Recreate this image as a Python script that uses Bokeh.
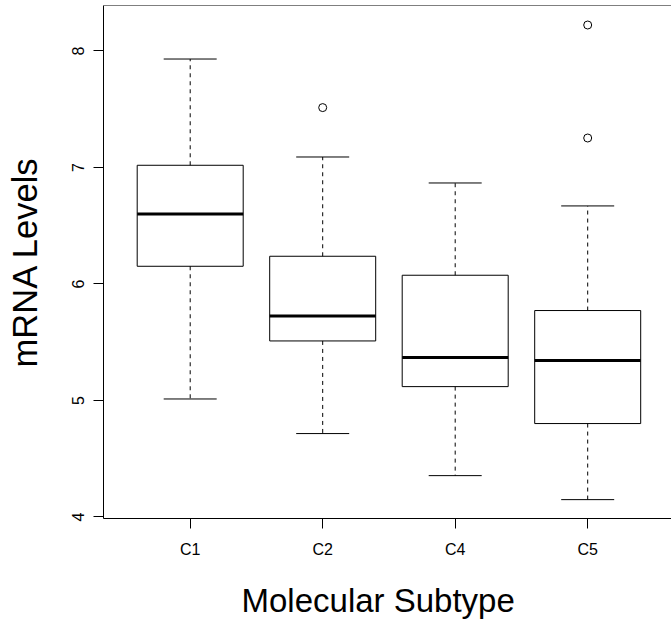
from bokeh.plotting import figure
from bokeh.models import Range1d, FixedTicker, Span, Title
from bokeh.embed import file_html
from bokeh.resources import INLINE

# ---- data ----
categories = ["C1", "C2", "C4", "C5"]
positions = [1, 2, 3, 4]
whisker_low = [5.013, 4.716, 4.355, 4.149]
q1 = [6.152, 5.511, 5.119, 4.802]
median = [6.601, 5.725, 5.368, 5.343]
q3 = [7.019, 6.238, 6.075, 5.772]
whisker_high = [7.931, 7.090, 6.867, 6.670]
outlier_group = [2, 4, 4]
outlier_value = [7.514, 8.223, 7.253]
y_ticks = [4, 5, 6, 7, 8]

BOX_W = 0.8
CAP_W = 0.4
FONT = "Liberation Sans"
Y_TOP = 8.3904

p = figure(frame_width=568, frame_height=513, output_backend="svg", toolbar_location=None,
           x_range=Range1d(0.3457, 4.6325), y_range=Range1d(3.987, Y_TOP),
           min_border_left=103, min_border_right=0, min_border_top=5,
           min_border_bottom=109)
p.outline_line_color = None
p.background_fill_color = "white"
p.border_fill_color = "white"
p.xgrid.visible = False
p.ygrid.visible = False

# boxes
p.quad(left=[x - BOX_W / 2 for x in positions], right=[x + BOX_W / 2 for x in positions],
       bottom=q1, top=q3, fill_color="white", line_color="black", line_width=1)
# medians
p.segment(x0=[x - BOX_W / 2 for x in positions], x1=[x + BOX_W / 2 for x in positions],
          y0=median, y1=median, line_color="black", line_width=3)
# whiskers (dashed)
p.segment(x0=positions, x1=positions, y0=q3, y1=whisker_high,
          line_color="black", line_width=1, line_dash="4 4")
p.segment(x0=positions, x1=positions, y0=q1, y1=whisker_low,
          line_color="black", line_width=1, line_dash="4 4")
# staples
p.segment(x0=[x - CAP_W / 2 for x in positions], x1=[x + CAP_W / 2 for x in positions],
          y0=whisker_high, y1=whisker_high, line_color="black", line_width=1)
p.segment(x0=[x - CAP_W / 2 for x in positions], x1=[x + CAP_W / 2 for x in positions],
          y0=whisker_low, y1=whisker_low, line_color="black", line_width=1)
# outliers
p.scatter(x=outlier_group, y=outlier_value, marker="circle", size=8,
          fill_color=None, line_color="black", line_width=1)

# top frame line
p.add_layout(Span(location=Y_TOP, dimension="width", line_color="black", line_width=1))

# axes
p.xaxis.ticker = FixedTicker(ticks=positions)
p.xaxis.major_label_overrides = {x: c for x, c in zip(positions, categories)}
p.yaxis.ticker = FixedTicker(ticks=y_ticks)
p.yaxis.major_label_orientation = "vertical"
for ax in (p.xaxis, p.yaxis):
    ax.minor_tick_line_color = None
    ax.major_tick_in = 0
    ax.major_tick_out = 10
    ax.axis_line_color = "black"
    ax.major_tick_line_color = "black"
    ax.major_label_text_font = FONT
    ax.major_label_text_font_size = "16px"
    ax.major_label_text_color = "black"
    ax.axis_label_text_font = FONT
    ax.axis_label_text_font_style = "normal"
    ax.axis_label_text_color = "black"
p.yaxis.axis_label = "mRNA Levels"
p.yaxis.axis_label_text_font_size = "34.5px"
p.xaxis.major_label_standoff = 12
p.yaxis.major_label_standoff = 9
p.yaxis.axis_label_standoff = 26

xtitle = Title(text="Molecular Subtype", align="left", offset=138,
               text_font=FONT, text_font_size="33px", text_font_style="normal",
               text_color="black", standoff=43, vertical_align="top")
p.add_layout(xtitle, "below")

open("out.html", "w").write(file_html(p, INLINE))
